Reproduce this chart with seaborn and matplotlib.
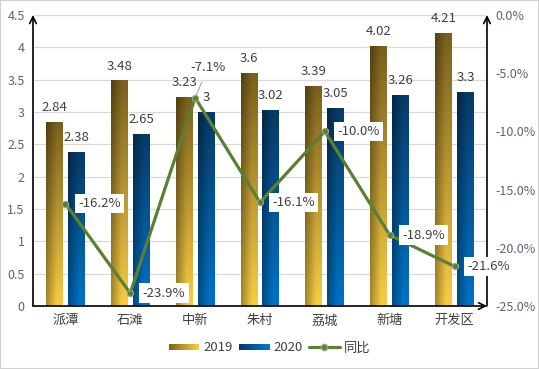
import numpy as np
import pandas as pd
import seaborn as sns
import matplotlib.pyplot as plt
from matplotlib.patches import Patch, Rectangle
from matplotlib.lines import Line2D
from matplotlib.legend_handler import HandlerBase

# 数据
areas = ["派潭", "石滩", "中新", "朱村", "荔城", "新塘", "开发区"]
v2019 = [2.84, 3.48, 3.23, 3.6, 3.39, 4.02, 4.21]
v2020 = [2.38, 2.65, 3.0, 3.02, 3.05, 3.26, 3.3]
yoy = [-16.2, -23.9, -7.1, -16.1, -10.0, -18.9, -21.6]
years = ["2019", "2020"]

df = pd.DataFrame({
    "区域": areas * 2,
    "年份": ["2019"] * len(areas) + ["2020"] * len(areas),
    "值": v2019 + v2020,
})

sns.set_theme(style="white")
plt.rcParams["font.family"] = ["Noto Sans CJK SC", "DejaVu Sans"]

fig = plt.figure(figsize=(5.39, 3.69), dpi=100)
ax = fig.add_axes([0.0612, 0.1707, 0.9035 - 0.0612, 0.9593 - 0.1707])

gold_top, gold_bot = np.array([122, 96, 30]), np.array([248, 204, 68])
blue_top, blue_bot = np.array([8, 58, 102]), np.array([0, 114, 198])

sns.barplot(data=df, x="区域", y="值", hue="年份", order=areas, hue_order=years,
            width=0.677, gap=0.227, palette=["#c9a23a", "#0b5fa5"], ax=ax,
            legend=False, zorder=2)


def grad_img(top, bot, n=80, m=40):
    t = np.linspace(0, 1, n)[:, None, None]
    col = top + (bot - top) * t
    u = np.linspace(0, 1, m)
    shade = 0.66 + 0.34 * np.clip(u / 0.65, 0, 1)
    img = col * shade[None, :, None]
    return np.clip(img / 255.0, 0, 1)


imgs = [grad_img(gold_top, gold_bot), grad_img(blue_top, blue_bot)]
for k, cont in enumerate(ax.containers):
    for p in cont:
        x, y, w, h = p.get_x(), p.get_y(), p.get_width(), p.get_height()
        ax.imshow(imgs[k], extent=[x, x + w, y, y + h], aspect="auto",
                  origin="upper", zorder=2, clip_path=p, clip_on=True)
        p.set_facecolor("none")
        p.set_edgecolor("none")
    ax.bar_label(cont, fmt="{:g}", padding=6, fontsize=9.5, color="#404040")

ax.set_xlim(-0.5, len(areas) - 0.5)
ax.set_ylim(0, 4.5)
ax.set_yticks(np.arange(0, 4.51, 0.5))
ax.set_yticklabels([f"{v:g}" for v in np.arange(0, 4.51, 0.5)])
ax.yaxis.grid(True, color="#d9d9d9", lw=0.9, zorder=0)
ax.set_axisbelow(True)
ax.set_xlabel("")
ax.set_ylabel("")
ax.tick_params(axis="y", length=0, labelsize=9, labelcolor="#5b6473", pad=6)
ax.tick_params(axis="x", length=0, labelsize=9.5, labelcolor="#404040", pad=6)
for s in ax.spines.values():
    s.set_visible(False)

# 同比折线
ax2 = ax.twinx()
sns.pointplot(x=areas, y=yoy, ax=ax2, color="#5b7f34", markers="o",
              linestyles="-", markersize=4.5, linewidth=2.3, errorbar=None)
for ln in ax2.lines:
    ln.set_markeredgecolor("#9aa58e")
    ln.set_markeredgewidth(0.8)
ax2.set_ylim(-25, 0)
ax2.set_yticks(np.arange(-25, 0.1, 5))
ax2.set_yticklabels([f"{v:.1f}%" for v in np.arange(-25, 0.1, 5)])
ax2.tick_params(axis="y", length=0, labelsize=9, labelcolor="#5b6473", pad=6)
ax2.set_xlim(-0.5, len(areas) - 0.5)
for s in ax2.spines.values():
    s.set_visible(False)

# 坐标轴箭头
arr = dict(arrowstyle="->", color="black", lw=1.2, shrinkA=0, shrinkB=0)
ax2.annotate("", xy=(0, 1), xytext=(0, 0), xycoords="axes fraction", arrowprops=arr, zorder=3)
ax2.annotate("", xy=(1, 1), xytext=(1, 0), xycoords="axes fraction", arrowprops=arr, zorder=3)
ax2.annotate("", xy=(1, 0), xytext=(0, 0), xycoords="axes fraction", arrowprops=arr, zorder=3)

for i, v in enumerate(yoy):
    if areas[i] == "中新":
        ax2.annotate(f"{v:.1f}%", xy=(i, v), xytext=(9.5, 22), textcoords="offset points",
                     ha="center", va="center", fontsize=9.5, color="#404040", zorder=6,
                     arrowprops=dict(arrowstyle="-", color="#a6a6a6", lw=0.8,
                                     shrinkA=4, shrinkB=2))
    else:
        ax2.annotate(f"{v:.1f}%", xy=(i, v), xytext=(9, 0), textcoords="offset points",
                     ha="left", va="center", fontsize=9.5, color="#404040", zorder=6,
                     bbox=dict(boxstyle="square,pad=0.25", fc="white", ec="none"))


# 图例（渐变色块）
class GradHandler(HandlerBase):
    def __init__(self, left, right, n=20):
        super().__init__()
        self.left, self.right, self.n = np.array(left), np.array(right), n

    def create_artists(self, legend, orig_handle, xdescent, ydescent, width, height,
                       fontsize, trans):
        arts = []
        hh = height * 0.75
        y0 = -ydescent + (height - hh) / 2
        for j in range(self.n):
            c = (self.left + (self.right - self.left) * j / (self.n - 1)) / 255.0
            r = Rectangle((-xdescent + width * j / self.n, y0), width / self.n * 1.05, hh,
                          facecolor=c, edgecolor="none", transform=trans)
            arts.append(r)
        return arts


h19 = Patch(facecolor="#c9a23a", label="2019")
h20 = Patch(facecolor="#0b5fa5", label="2020")
hline = Line2D([0], [0], color="#5b7f34", lw=2.3, marker="o", markersize=4.5,
               markeredgecolor="#9aa58e", label="同比")
fig.legend(handles=[h19, h20, hline], loc="center", bbox_to_anchor=(0.5, 0.057), ncol=3,
           frameon=False, fontsize=9.5, handlelength=2.3, handleheight=0.6,
           handletextpad=0.3, columnspacing=0.5, labelcolor="#404040",
           handler_map={h19: GradHandler([128, 100, 32], [248, 204, 68]),
                        h20: GradHandler([8, 58, 102], [0, 118, 204])})

fig.patches.append(Rectangle((0, 0), 1, 1, transform=fig.transFigure, fill=False,
                             edgecolor="#d0d0d0", lw=1.5))

fig.savefig("out.png", dpi=100)
